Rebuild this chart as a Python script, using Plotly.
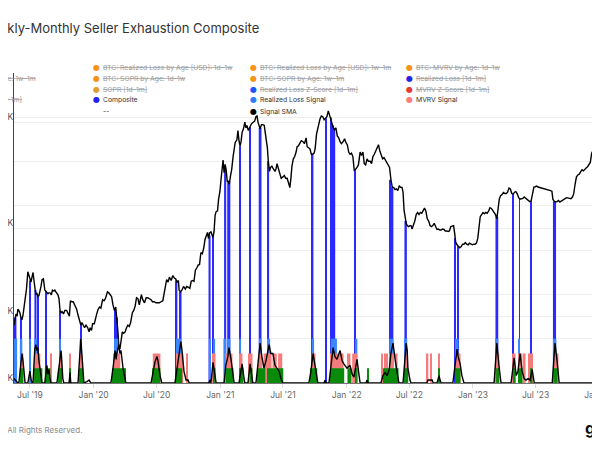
import math
import plotly.graph_objects as go
import pandas as pd

# ---------------- data ----------------
PRICE_DATES = [
"2019-05-16","2019-05-19","2019-05-22","2019-05-25","2019-05-27","2019-05-30","2019-06-02","2019-06-05","2019-06-08","2019-06-11",
"2019-06-14","2019-06-17","2019-06-21","2019-06-25","2019-06-28","2019-07-01","2019-07-04","2019-07-07","2019-07-10","2019-07-13",
"2019-07-15","2019-07-18","2019-07-21","2019-07-24","2019-07-27","2019-07-30","2019-08-02","2019-08-05","2019-08-09","2019-08-13",
"2019-08-16","2019-08-19","2019-08-22","2019-08-25","2019-08-28","2019-09-01","2019-09-04","2019-09-08","2019-09-11","2019-09-14",
"2019-09-17","2019-09-20","2019-09-23","2019-09-26","2019-09-29","2019-10-02","2019-10-06","2019-10-10","2019-10-15","2019-10-19",
"2019-10-23","2019-10-26","2019-10-30","2019-11-03","2019-11-08","2019-11-13","2019-11-17","2019-11-22","2019-11-25","2019-11-28",
"2019-12-02","2019-12-06","2019-12-10","2019-12-15","2019-12-19","2019-12-22","2019-12-26","2019-12-29","2020-01-03","2020-01-07",
"2020-01-10","2020-01-14","2020-01-18","2020-01-22","2020-01-27","2020-01-31","2020-02-04","2020-02-10","2020-02-14","2020-02-18",
"2020-02-22","2020-02-26","2020-03-01","2020-03-05","2020-03-08","2020-03-11","2020-03-14","2020-03-17","2020-03-21","2020-03-24",
"2020-03-28","2020-04-01","2020-04-05","2020-04-09","2020-04-13","2020-04-17","2020-04-22","2020-04-26","2020-04-30","2020-05-04",
"2020-05-08","2020-05-12","2020-05-18","2020-05-22","2020-05-27","2020-06-01","2020-06-05","2020-06-10","2020-06-15","2020-06-19",
"2020-06-24","2020-06-29","2020-07-04","2020-07-09","2020-07-14","2020-07-19","2020-07-23","2020-07-27","2020-07-30","2020-08-03",
"2020-08-07","2020-08-12","2020-08-17","2020-08-21","2020-08-25","2020-08-29","2020-09-02","2020-09-04","2020-09-08","2020-09-12",
"2020-09-17","2020-09-22","2020-09-26","2020-10-01","2020-10-05","2020-10-09","2020-10-13","2020-10-17","2020-10-21","2020-10-25",
"2020-10-29","2020-11-02","2020-11-06","2020-11-10","2020-11-14","2020-11-18","2020-11-22","2020-11-25","2020-11-28","2020-12-01",
"2020-12-05","2020-12-08","2020-12-11","2020-12-14","2020-12-17","2020-12-20","2020-12-24","2020-12-27","2020-12-31","2021-01-03",
"2021-01-06","2021-01-09","2021-01-12","2021-01-15","2021-01-18","2021-01-21","2021-01-24","2021-01-27","2021-01-30","2021-02-03",
"2021-02-07","2021-02-10","2021-02-13","2021-02-18","2021-02-21","2021-02-24","2021-02-27","2021-03-02","2021-03-05","2021-03-09",
"2021-03-13","2021-03-16","2021-03-19","2021-03-23","2021-03-28","2021-04-01","2021-04-06","2021-04-10","2021-04-14","2021-04-17",
"2021-04-20","2021-04-23","2021-04-26","2021-04-30","2021-05-04","2021-05-08","2021-05-11","2021-05-14","2021-05-17","2021-05-20",
"2021-05-23","2021-05-26","2021-05-30","2021-06-03","2021-06-08","2021-06-11","2021-06-14","2021-06-18","2021-06-23","2021-06-26",
"2021-07-01","2021-07-05","2021-07-09","2021-07-13","2021-07-17","2021-07-21","2021-07-24","2021-07-27","2021-07-31","2021-08-04",
"2021-08-08","2021-08-11","2021-08-15","2021-08-19","2021-08-23","2021-08-28","2021-09-01","2021-09-06","2021-09-09","2021-09-13",
"2021-09-17","2021-09-21","2021-09-25","2021-09-29","2021-10-02","2021-10-06","2021-10-10","2021-10-13","2021-10-16","2021-10-20",
"2021-10-24","2021-10-28","2021-11-01","2021-11-05","2021-11-09","2021-11-12","2021-11-15","2021-11-19","2021-11-23","2021-11-27",
"2021-12-01","2021-12-05","2021-12-09","2021-12-13","2021-12-17","2021-12-22","2021-12-26","2021-12-30","2022-01-03","2022-01-07",
"2022-01-11","2022-01-15","2022-01-19","2022-01-23","2022-01-27","2022-01-31","2022-02-04","2022-02-09","2022-02-13","2022-02-17",
"2022-02-21","2022-02-25","2022-03-01","2022-03-05","2022-03-10","2022-03-14","2022-03-18","2022-03-22","2022-03-26","2022-03-30",
"2022-04-03","2022-04-07","2022-04-11","2022-04-15","2022-04-19","2022-04-23","2022-04-27","2022-05-01","2022-05-05","2022-05-09",
"2022-05-13","2022-05-17","2022-05-21","2022-05-25","2022-05-29","2022-06-02","2022-06-06","2022-06-10","2022-06-13","2022-06-16",
"2022-06-19","2022-06-22","2022-06-25","2022-06-29","2022-07-03","2022-07-06","2022-07-09","2022-07-13","2022-07-17","2022-07-21",
"2022-07-25","2022-07-29","2022-08-02","2022-08-06","2022-08-10","2022-08-14","2022-08-18","2022-08-22","2022-08-26","2022-08-30",
"2022-09-03","2022-09-07","2022-09-11","2022-09-15","2022-09-19","2022-09-23","2022-09-27","2022-10-01","2022-10-05","2022-10-09",
"2022-10-13","2022-10-17","2022-10-21","2022-10-25","2022-10-29","2022-11-02","2022-11-06","2022-11-09","2022-11-12","2022-11-16",
"2022-11-20","2022-11-24","2022-11-28","2022-12-02","2022-12-06","2022-12-10","2022-12-14","2022-12-18","2022-12-22","2022-12-26",
"2022-12-30","2023-01-03","2023-01-07","2023-01-11","2023-01-15","2023-01-19","2023-01-22","2023-01-26","2023-01-30","2023-02-03",
"2023-02-07","2023-02-11","2023-02-15","2023-02-19","2023-02-23","2023-02-27","2023-03-03","2023-03-07","2023-03-11","2023-03-14",
"2023-03-18","2023-03-22","2023-03-26","2023-03-30","2023-04-03","2023-04-07","2023-04-11","2023-04-15","2023-04-19","2023-04-23",
"2023-04-27","2023-05-01","2023-05-05","2023-05-09","2023-05-13","2023-05-17","2023-05-21","2023-05-25","2023-05-29","2023-06-02",
"2023-06-06","2023-06-10","2023-06-14","2023-06-18","2023-06-22","2023-06-26","2023-06-30","2023-07-04","2023-07-08","2023-07-12",
"2023-07-16","2023-07-20","2023-07-24","2023-07-28","2023-08-01","2023-08-05","2023-08-09","2023-08-13","2023-08-17","2023-08-20",
"2023-08-24","2023-08-28","2023-09-01","2023-09-05","2023-09-09","2023-09-13","2023-09-17","2023-09-21","2023-09-25","2023-09-29",
"2023-10-03","2023-10-07","2023-10-11","2023-10-15","2023-10-19","2023-10-23","2023-10-27","2023-10-31","2023-11-04","2023-11-08",
"2023-11-12","2023-11-16","2023-11-20","2023-11-24","2023-11-28","2023-12-02","2023-12-06","2023-12-10","2023-12-13","2023-12-16",
"2023-12-19","2023-12-22","2023-12-25","2023-12-29",
]
PRICE_K = [
7.3,7.9,8.2,8.0,8.6,8.5,8.3,7.9,7.7,8.1,
8.7,9.5,10.6,12.7,12.2,11.6,11.4,12.0,12.6,11.5,
10.9,10.0,10.2,9.8,9.9,10.3,10.9,11.7,11.8,10.5,
10.4,10.3,10.1,10.2,10.2,10.0,10.5,10.4,10.5,10.3,
10.2,10.0,9.6,8.5,8.3,8.4,8.2,8.5,8.5,8.2,
8.0,9.4,9.3,9.3,8.9,8.6,8.1,7.5,7.3,7.5,
7.3,7.1,7.3,7.1,6.8,7.1,6.9,7.4,7.4,8.0,
8.2,8.6,8.8,8.7,9.5,9.4,9.6,10.3,10.2,10.0,
9.8,9.0,8.5,8.8,8.0,6.9,5.8,5.7,6.3,6.8,
6.7,6.8,7.1,7.3,7.2,7.5,8.3,8.5,8.9,9.7,
9.6,9.0,10.0,9.5,9.2,9.7,9.7,9.6,9.5,9.3,
9.3,9.2,9.2,9.2,9.3,9.4,10.2,11.0,11.7,11.4,
12.0,11.6,12.2,11.9,11.8,11.4,11.6,10.5,10.3,10.5,
10.9,10.6,10.9,10.8,10.7,11.5,11.6,11.5,12.9,13.2,
13.6,13.7,15.5,15.3,16.2,17.8,18.7,19.1,17.9,19.0,
19.2,18.6,18.1,19.3,22.8,23.7,23.9,26.9,29.3,33.0,
36.5,40.5,35.5,38.7,36.5,32.5,32.5,31.5,34.0,36.8,
42.0,45.0,48.6,50.0,55.0,49.5,47.0,49.0,54.0,56.0,
60.0,56.5,58.0,55.0,57.0,59.0,60.0,60.5,63.5,64.0,
60.0,57.0,56.0,58.5,58.5,58.0,54.0,48.5,46.0,39.5,
36.0,37.5,38.0,37.0,36.0,37.0,39.0,37.0,35.0,33.5,
34.0,34.5,33.5,33.5,32.0,30.4,33.5,38.0,41.0,42.0,
44.0,46.5,47.0,48.0,49.5,49.0,48.0,51.0,46.5,46.0,
45.5,43.0,43.0,43.5,45.5,53.0,57.0,58.0,62.0,64.0,
63.5,61.5,62.5,63.5,67.5,65.0,63.0,59.0,57.0,55.5,
56.5,52.0,51.0,49.0,48.0,49.0,50.5,48.5,47.5,44.0,
43.0,43.5,42.0,36.5,36.8,37.5,38.5,44.0,42.5,44.0,
39.0,38.5,41.0,40.0,40.0,39.0,42.0,43.0,44.5,46.5,
47.5,44.5,42.5,41.0,41.5,40.5,39.5,38.5,37.5,33.0,
30.5,30.5,29.8,30.0,29.5,31.0,30.5,30.5,29.0,24.0,
22.0,21.0,20.5,20.3,20.5,20.5,19.8,20.5,21.5,23.0,
23.5,23.0,23.5,23.3,23.8,24.6,23.8,22.0,21.5,20.5,
20.3,20.5,21.0,20.3,19.7,19.8,19.6,19.6,19.8,19.7,
19.4,19.4,19.3,19.4,20.3,20.4,20.5,19.0,17.3,16.8,
16.6,16.3,16.5,16.9,16.9,17.2,16.9,16.8,17.1,16.9,
16.8,16.9,16.9,17.1,18.0,20.5,22.5,23.0,23.5,23.2,
23.5,23.3,23.8,24.7,24.5,24.0,23.5,23.0,22.0,24.5,
27.0,28.0,28.3,28.9,28.6,28.6,29.0,30.3,30.0,28.6,
28.4,29.0,29.2,28.5,27.4,27.0,27.0,27.2,27.6,27.2,
26.9,26.5,26.3,26.5,29.0,30.6,30.7,30.9,30.6,30.5,
30.4,30.2,30.0,29.9,30.0,29.9,29.6,29.5,29.3,26.9,
26.4,26.2,26.3,26.6,26.2,26.5,26.8,27.0,27.2,27.4,
27.3,27.4,27.1,27.5,28.5,31.5,34.0,34.7,35.0,35.8,
36.6,36.2,37.0,37.3,37.8,38.5,39.5,43.5,44.5,42.5,
43.2,43.5,43.0,44.0,
]

# Composite: active periods, drawn up to the price level (in K USD)
COMPOSITE_START = ["2019-05-18","2019-06-04","2019-06-30","2019-07-14","2019-07-23","2019-08-15","2019-09-25","2019-11-23",
                   "2020-03-02","2020-03-07","2020-08-26","2020-09-06","2020-11-28","2020-12-10","2021-01-12","2021-01-21",
                   "2021-02-26","2021-03-27","2021-04-22","2021-05-18","2021-09-22","2021-10-31","2021-11-14","2021-11-20",
                   "2021-11-25","2022-01-24","2022-05-06","2022-05-12","2022-06-17","2022-11-10","2022-11-18","2023-03-07",
                   "2023-04-26","2023-05-14","2023-06-17","2023-08-20","2023-12-14","2023-12-22"]
COMPOSITE_END = ["2019-05-22","2019-06-06","2019-07-02","2019-07-19","2019-07-25","2019-08-17","2019-09-27","2019-11-27",
                 "2020-03-04","2020-03-09","2020-08-29","2020-09-10","2020-12-03","2020-12-12","2021-01-17","2021-01-29",
                 "2021-02-28","2021-03-29","2021-04-29","2021-05-21","2021-09-26","2021-11-02","2021-11-17","2021-11-23",
                 "2021-11-28","2022-01-26","2022-05-09","2022-05-15","2022-06-23","2022-11-12","2022-11-20","2023-03-14",
                 "2023-04-27","2023-05-15","2023-06-18","2023-08-28","2023-12-17","2023-12-24"]
COMPOSITE_K = [7.9,7.9,11.6,10.5,9.8,10.4,8.5,7.4,
               8.6,7.9,11.6,10.3,18.5,18.2,37.0,32.5,
               47.0,57.0,56.5,40.0,43.0,62.5,63.0,58.0,
               56.0,36.6,33.0,30.5,21.5,18.0,16.6,22.5,
               28.4,27.2,26.5,26.4,43.0,43.5]

# Realized Loss Signal (level 3)
RL_LEVEL = 3
RL_START = ["2019-05-16","2019-06-02","2019-06-30","2019-07-14","2019-09-25","2019-11-22","2020-02-29","2020-08-26",
            "2020-11-29","2020-12-11","2021-01-10","2021-01-20","2021-02-26","2021-04-23","2021-05-16","2021-09-22",
            "2021-11-16","2022-01-27","2022-05-04","2022-06-16","2022-11-10","2023-03-06","2023-05-13","2023-08-20",
            "2023-12-16"]
RL_END = ["2019-05-24","2019-06-08","2019-07-02","2019-07-21","2019-09-27","2019-11-27","2020-03-11","2020-09-09",
          "2020-12-04","2020-12-16","2021-01-17","2021-01-29","2021-03-01","2021-04-29","2021-05-24","2021-09-28",
          "2021-12-03","2022-01-31","2022-05-15","2022-06-24","2022-11-19","2023-03-14","2023-05-15","2023-08-29",
          "2023-12-23"]

# MVRV Signal (level 2)
MVRV_LEVEL = 2
MVRV_START = ["2019-06-05","2019-07-13","2019-08-30","2019-09-26","2019-10-24","2019-11-22","2020-02-26","2020-06-20",
              "2020-08-26","2020-09-25","2020-12-08","2021-01-15","2021-02-24","2021-03-22","2021-04-20","2021-05-06",
              "2021-06-01","2021-06-17","2021-09-23","2021-11-14","2022-01-02","2022-01-17","2022-04-12","2022-04-21",
              "2022-04-27","2022-05-04","2022-05-21","2022-06-19","2022-08-20","2022-09-01","2022-09-22","2022-11-10",
              "2023-03-06","2023-04-24","2023-05-11","2023-05-28","2023-06-09","2023-06-13","2023-06-20","2023-08-23",
              "2023-12-17"]
MVRV_END = ["2019-06-11","2019-07-30","2019-09-01","2019-10-01","2019-10-26","2019-11-28","2020-03-17","2020-07-11",
            "2020-09-15","2020-09-27","2020-12-17","2021-02-04","2021-03-05","2021-04-03","2021-05-01","2021-05-28",
            "2021-06-12","2021-06-28","2021-10-02","2021-12-22","2022-01-11","2022-01-31","2022-04-14","2022-04-23",
            "2022-04-29","2022-05-15","2022-05-27","2022-06-25","2022-08-24","2022-09-03","2022-09-25","2022-11-25",
            "2023-03-17","2023-05-03","2023-05-23","2023-06-01","2023-06-11","2023-06-15","2023-06-22","2023-09-04",
            "2024-01-03"]

# SOPR Signal (level 1)
SOPR_LEVEL = 1
SOPR_START = ["2019-06-02","2019-07-13","2019-08-13","2019-09-20","2019-10-24","2019-11-20","2020-02-23","2020-03-31",
              "2020-06-18","2020-08-26","2020-12-11","2021-01-17","2021-02-24","2021-03-28","2021-04-17","2021-05-16",
              "2021-09-17","2021-11-14","2022-01-05","2022-01-25","2022-03-01","2022-04-16","2022-06-16","2022-09-22",
              "2022-11-10","2023-03-09","2023-04-27","2023-05-11","2023-06-15","2023-08-23","2023-12-20"]
SOPR_END = ["2019-06-11","2019-08-05","2019-08-28","2019-10-01","2019-10-26","2019-12-01","2020-03-29","2020-04-02",
            "2020-07-11","2020-09-12","2020-12-17","2021-02-07","2021-03-08","2021-04-03","2021-05-10","2021-07-01",
            "2021-10-07","2021-12-24","2022-01-14","2022-01-31","2022-03-04","2022-05-30","2022-06-27","2022-09-25",
            "2022-11-25","2023-03-17","2023-05-03","2023-05-23","2023-06-21","2023-09-01","2023-12-26"]

# Signal SMA
SMA_DATES = [
"2019-05-16","2019-05-22","2019-05-27","2019-05-30","2019-06-05","2019-06-08","2019-06-11","2019-06-14","2019-06-17","2019-06-25",
"2019-07-01","2019-07-04","2019-07-07","2019-07-10","2019-07-13","2019-07-15","2019-07-18","2019-07-21","2019-07-24","2019-07-27",
"2019-08-02","2019-08-05","2019-08-13","2019-08-19","2019-08-22","2019-08-25","2019-08-28","2019-08-31","2019-09-17","2019-09-23",
"2019-09-29","2019-10-01","2019-10-04","2019-10-07","2019-10-22","2019-10-25","2019-10-27","2019-11-17","2019-11-23","2019-11-25",
"2019-11-28","2019-12-01","2019-12-04","2019-12-13","2019-12-19","2019-12-24","2020-02-20","2020-02-26","2020-03-03","2020-03-06",
"2020-03-08","2020-03-14","2020-03-17","2020-03-20","2020-03-26","2020-04-01","2020-04-03","2020-06-15","2020-06-20","2020-06-26",
"2020-07-02","2020-07-05","2020-07-11","2020-07-16","2020-08-23","2020-08-29","2020-09-04","2020-09-09","2020-09-12","2020-09-18",
"2020-09-24","2020-09-30","2020-10-03","2020-11-29","2020-12-02","2020-12-05","2020-12-11","2020-12-14","2020-12-20","2021-01-12",
"2021-01-17","2021-01-23","2021-01-26","2021-02-01","2021-02-07","2021-02-10","2021-02-24","2021-03-02","2021-03-05","2021-03-10",
"2021-03-13","2021-03-22","2021-03-28","2021-03-31","2021-04-05","2021-04-14","2021-04-20","2021-04-26","2021-05-01","2021-05-07",
"2021-05-13","2021-05-22","2021-05-27","2021-06-02","2021-06-08","2021-06-14","2021-06-20","2021-06-25","2021-07-01","2021-09-14",
"2021-09-20","2021-09-26","2021-10-02","2021-10-07","2021-10-10","2021-10-28","2021-10-31","2021-11-02","2021-11-11","2021-11-17",
"2021-11-23","2021-11-28","2021-12-04","2021-12-13","2021-12-19","2021-12-24","2022-01-02","2022-01-11","2022-01-17","2022-01-22",
"2022-01-28","2022-01-31","2022-02-06","2022-02-09","2022-02-26","2022-03-01","2022-03-04","2022-04-10","2022-04-16","2022-04-22",
"2022-04-28","2022-05-04","2022-05-09","2022-05-15","2022-05-21","2022-05-27","2022-05-30","2022-06-01","2022-06-13","2022-06-19",
"2022-06-22","2022-06-25","2022-06-27","2022-07-03","2022-07-06","2022-08-21","2022-08-24","2022-09-05","2022-09-08","2022-09-19",
"2022-09-25","2022-09-28","2022-10-01","2022-11-04","2022-11-10","2022-11-16","2022-11-19","2022-11-25","2022-11-30","2022-12-03",
"2022-12-06","2023-03-03","2023-03-09","2023-03-11","2023-03-17","2023-03-20","2023-03-23","2023-04-21","2023-04-27","2023-04-30",
"2023-05-06","2023-05-11","2023-05-17","2023-05-23","2023-05-29","2023-06-03","2023-06-09","2023-06-15","2023-06-21","2023-06-24",
"2023-06-27","2023-08-18","2023-08-23","2023-08-26","2023-09-01","2023-09-04","2023-09-07","2023-12-14","2023-12-20","2023-12-26",
"2023-12-31",
]
SMA_VALUES = [
0.3,0.1,0.0,0.0,1.2,2.0,1.5,0.4,0.0,0.0,
0.8,0.3,0.0,0.0,1.2,2.3,2.6,2.2,2.4,1.5,
0.5,0.0,0.0,1.2,0.6,0.9,0.3,0.0,0.0,1.2,
2.2,1.5,0.3,0.0,0.0,0.7,0.0,0.0,1.8,3.0,
2.0,0.6,0.0,0.1,0.2,0.0,0.0,1.0,2.2,1.6,
2.0,2.6,2.0,2.2,1.0,0.3,0.0,0.0,0.6,1.4,
1.8,1.5,0.5,0.0,0.0,1.0,2.0,2.8,2.3,0.8,
0.2,0.2,0.0,0.0,0.2,0.0,1.4,1.0,0.0,0.0,
1.2,1.8,2.4,1.6,0.4,0.0,0.0,1.0,1.3,0.4,
0.0,0.0,1.3,0.8,0.0,0.0,1.2,2.7,1.8,1.0,
1.5,2.6,2.0,2.0,1.2,1.0,0.8,0.3,0.0,0.0,
0.8,2.0,1.0,0.3,0.0,0.0,0.2,0.0,0.0,1.2,
2.4,1.8,1.6,2.2,1.5,1.3,1.0,1.2,0.6,0.4,
1.2,1.6,0.5,0.0,0.0,0.2,0.0,0.0,0.5,0.7,
0.5,0.9,2.0,2.7,1.6,0.8,0.3,0.0,0.0,1.8,
2.7,2.2,1.0,0.2,0.0,0.0,0.2,0.2,0.0,0.0,
0.5,0.2,0.0,0.0,1.0,2.3,1.8,1.3,0.5,0.2,
0.0,0.0,1.6,2.7,1.2,0.3,0.0,0.0,1.2,1.7,
0.5,0.8,2.0,0.8,0.3,0.2,0.3,0.2,0.9,0.4,
0.0,0.0,1.5,2.7,1.5,0.5,0.0,0.0,0.3,0.5,
0.4,
]

PRICE_TICKS = [4000, 8000, 20000, 60000]
PRICE_TICK_TEXT = ["4K", "8K", "20K", "60K"]
PRICE_RANGE = [4000, 100000]
SIGNAL_RANGE = [0, 21]
X_TICKS = ["2019-07-01","2020-01-01","2020-07-01","2021-01-01","2021-07-01","2022-01-01",
           "2022-07-01","2023-01-01","2023-07-01","2024-01-01"]
X_TICK_TEXT = ["Jul '19","Jan '20","Jul '20","Jan '21","Jul '21","Jan '22","Jul '22","Jan '23","Jul '23","Jan '24"]
X_RANGE = ["2019-05-16", "2024-01-03"]

LEGEND_LABELS = [
    "BTC: Price", "BTC: Realized Loss by Age [USD]: 1d–1w", "BTC: Realized Loss by Age [USD]: 1w–1m", "BTC: MVRV by Age: 1d–1w",
    "BTC: MVRV by Age: 1w–1m", "BTC: SOPR by Age: 1d–1w", "BTC: SOPR by Age: 1w–1m", "Realized Loss [1d–1m]",
    "MVRV [1d–1m]", "SOPR [1d–1m]", "Realized Loss Z-Score [1d–1m]", "MVRV Z-Score [1d–1m]",
    "SOPR Z-Score [1d–1m]", "Composite", "Realized Loss Signal", "MVRV Signal",
    "SOPR Signal", "--", "Signal SMA",
]
LEGEND_COLORS = [
    "#000000", "#f7931a", "#f7931a", "#f7931a",
    "#f7931a", "#f7931a", "#f7931a", "#2424e8",
    "#e04040", "#e0a030", "#1c55ff", "#e53935",
    "#2e9e2e", "#2020f0", "#2f7dff", "#ff7a7a",
    "#0a8a0a", None, "#000000",
]
LEGEND_HIDDEN = [
    False, True, True, True,
    True, True, True, True,
    True, True, True, True,
    True, False, False, False,
    False, False, False,
]

# ---------------- styling ----------------
FONT = "Inter, 'Noto Sans', sans-serif"
COL_COMPOSITE = "#2a2aff"
COL_RL = "#3a86ff"
COL_MVRV = "#f47c7c"
COL_SOPR = "#0a8a0a"

# the page body adds an 8px offset; positions below are given in screen pixels
OFF = 8
W, H = 600, 450
ML, MR, MT, MB = 14 - OFF, OFF, 73 - OFF, H - (383 - OFF)
PW, PH = W - ML - MR, H - MT - MB


def px_x(px):
    return (px - OFF - ML) / PW


def px_y(py):
    return (H - MB - (py - OFF)) / PH


def bars_from_ranges(starts, ends):
    s = pd.to_datetime(pd.Series(starts))
    e = pd.to_datetime(pd.Series(ends)) + pd.Timedelta(days=1)
    centers = s + (e - s) / 2
    widths = (e - s) / pd.Timedelta(milliseconds=1)
    return list(centers), list(widths)


fig = go.Figure()

# composite: from the axis floor up to the price level
c_x, c_w = bars_from_ranges(COMPOSITE_START, COMPOSITE_END)
fig.add_trace(go.Bar(
    x=c_x, y=[v * 1000 - PRICE_RANGE[0] for v in COMPOSITE_K], base=PRICE_RANGE[0], width=c_w,
    marker=dict(color=COL_COMPOSITE, line=dict(width=0)), yaxis="y", hoverinfo="skip", name="Composite"))

fig.add_trace(go.Scatter(
    x=PRICE_DATES, y=[v * 1000 for v in PRICE_K], mode="lines",
    line=dict(color="#000000", width=1.4), yaxis="y", hoverinfo="skip", name="Price"))

for starts, ends, level, col, nm in [
    (RL_START, RL_END, RL_LEVEL, COL_RL, "Realized Loss Signal"),
    (MVRV_START, MVRV_END, MVRV_LEVEL, COL_MVRV, "MVRV Signal"),
    (SOPR_START, SOPR_END, SOPR_LEVEL, COL_SOPR, "SOPR Signal"),
]:
    bx, bw = bars_from_ranges(starts, ends)
    fig.add_trace(go.Bar(
        x=bx, y=[level] * len(bx), width=bw, marker=dict(color=col, line=dict(width=0)),
        yaxis="y2", hoverinfo="skip", name=nm))

fig.add_trace(go.Scatter(
    x=SMA_DATES, y=SMA_VALUES, mode="lines", line=dict(color="#000000", width=1.4),
    yaxis="y2", hoverinfo="skip", name="Signal SMA"))

# ---------------- legend (as annotations) ----------------
annotations = []
COL_MARK_X = [-57, 96, 253, 409]
COL_TEXT_X = [-52, 101, 258, 414]
ROW_Y = [67, 78, 89, 100, 111]
for i, (lab, col, hid) in enumerate(zip(LEGEND_LABELS, LEGEND_COLORS, LEGEND_HIDDEN)):
    r, c = divmod(i, 4)
    if col is not None:
        annotations.append(dict(
            x=px_x(COL_MARK_X[c]), y=px_y(ROW_Y[r]), xref="paper", yref="paper",
            text="●", showarrow=False, xanchor="center", yanchor="middle",
            font=dict(family="DejaVu Sans", size=8, color=col)))
    txt = f"<s>{lab}</s>" if hid else lab
    annotations.append(dict(
        x=px_x(COL_TEXT_X[c]), y=px_y(ROW_Y[r]), xref="paper", yref="paper",
        text=txt, showarrow=False, xanchor="left", yanchor="middle",
        font=dict(family=FONT, size=6.8, color="#9a9a9a" if hid else "#333333")))

annotations.append(dict(
    x=px_x(261), y=px_y(28), xref="paper", yref="paper",
    text="Weekly-Monthly Seller Exhaustion Composite", showarrow=False,
    xanchor="right", yanchor="middle", font=dict(family=FONT, size=13, color="#333333")))
annotations.append(dict(
    x=px_x(84), y=px_y(430), xref="paper", yref="paper",
    text="© 2024 Glassnode. All Rights Reserved.", showarrow=False,
    xanchor="right", yanchor="middle", font=dict(family=FONT, size=8, color="#8a8a8a")))
annotations.append(dict(
    x=px_x(583), y=px_y(428), xref="paper", yref="paper",
    text="<b>glassnode</b>", showarrow=False,
    xanchor="left", yanchor="middle", font=dict(family=FONT, size=16, color="#111111")))

fig.update_layout(
    width=W, height=H,
    margin=dict(l=ML, r=MR, t=MT, b=MB, autoexpand=False),
    paper_bgcolor="#ffffff", plot_bgcolor="#ffffff",
    showlegend=False, barmode="overlay",
    font=dict(family=FONT, color="#555555"),
    xaxis=dict(type="date", range=X_RANGE, tickvals=X_TICKS, ticktext=X_TICK_TEXT,
               showgrid=False, zeroline=False, showline=True, linecolor="#777777", linewidth=1,
               ticks="outside", ticklen=4, tickcolor="#dddddd", ticklabeloverflow="allow",
               tickfont=dict(family=FONT, size=8.5, color="#666666")),
    yaxis=dict(type="log", range=[math.log10(PRICE_RANGE[0]), math.log10(PRICE_RANGE[1])],
               tickvals=PRICE_TICKS, ticktext=PRICE_TICK_TEXT, showgrid=True, gridcolor="#eeeeee",
               zeroline=False, showline=True, linecolor="#444444", linewidth=1, ticks="",
               ticklabelstandoff=-2, ticklabelshift=-5, ticklabeloverflow="allow", automargin=False,
               tickfont=dict(family=FONT, size=8.5, color="#555555")),
    yaxis2=dict(overlaying="y", side="right", range=SIGNAL_RANGE, dtick=3, showgrid=True,
                gridcolor="#eeeeee", zeroline=False, showticklabels=False, showline=False),
    annotations=annotations,
)

fig.write_html("out.html")
